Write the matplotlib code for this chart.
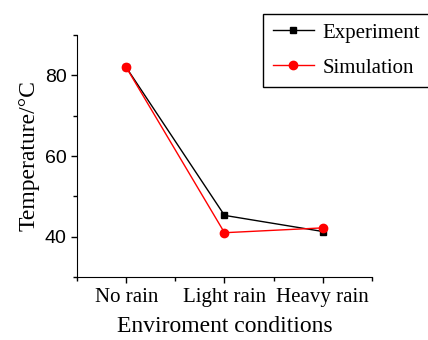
import matplotlib.pyplot as plt
from matplotlib.ticker import MultipleLocator, FixedLocator

conditions = ['No rain', 'Light rain', 'Heavy rain']
experiment = [82.0, 45.3, 41.3]
simulation = [82.0, 41.0, 42.2]

serif = 'Liberation Serif'
sans = 'Liberation Sans'

fig = plt.figure(figsize=(4.28, 3.4), dpi=100)
ax = fig.add_axes([0.18, 0.185, 0.689, 0.712])

x = [1, 2, 3]
ax.plot(x, experiment, color='black', lw=1, marker='s', ms=5, label='Experiment')
ax.plot(x, simulation, color='red', lw=1, marker='o', ms=6, label='Simulation')

ax.set_xlim(0.5, 3.5)
ax.set_ylim(30, 90)
ax.spines['top'].set_visible(False)
ax.spines['right'].set_visible(False)

ax.xaxis.set_major_locator(FixedLocator(x))
ax.xaxis.set_minor_locator(FixedLocator([0.5, 1.5, 2.5, 3.5]))
ax.set_xticklabels(conditions, fontfamily=serif, fontsize=15)
ax.yaxis.set_major_locator(MultipleLocator(20))
ax.yaxis.set_minor_locator(MultipleLocator(10))
ax.set_yticks([40, 60, 80])
ax.tick_params(axis='y', labelsize=14)
for lab in ax.get_yticklabels():
    lab.set_fontfamily(sans)
ax.tick_params(which='major', length=4, width=1)
ax.tick_params(which='minor', length=3, width=1)

ax.set_xlabel('Enviroment conditions', fontfamily=serif, fontsize=17, labelpad=7)
ax.set_ylabel('Temperature/\u00b0C', fontfamily=serif, fontsize=17, labelpad=4)

leg = fig.legend(loc='upper left', bbox_to_anchor=(0.615, 0.96), borderaxespad=0,
                 prop={'family': serif, 'size': 15},
                 fancybox=False, edgecolor='black', framealpha=1, handlelength=2.0,
                 handletextpad=0.4, borderpad=0.45, labelspacing=0.75)
leg.get_frame().set_linewidth(1)

fig.savefig('out.png', dpi=100)
